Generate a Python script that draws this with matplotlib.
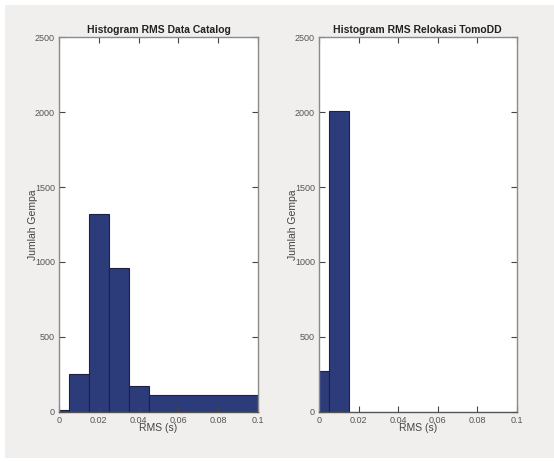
import matplotlib
matplotlib.use('Agg')
import matplotlib.pyplot as plt
from matplotlib.patches import Rectangle

# Histogram bins (left edges, widths) and counts
cat_left = [-0.005, 0.005, 0.015, 0.025, 0.035, 0.045]
cat_width = [0.01, 0.01, 0.01, 0.01, 0.01, 0.06]
cat_count = [8, 253, 1320, 958, 170, 108]

tomo_left = [-0.005, 0.005]
tomo_width = [0.01, 0.01]
tomo_count = [268, 2012]

xticks = [0, 0.02, 0.04, 0.06, 0.08, 0.1]
xticklabels = ['0', '0.02', '0.04', '0.06', '0.08', '0.1']
yticks = [0, 500, 1000, 1500, 2000, 2500]

plt.rcParams['font.family'] = ['Liberation Sans', 'DejaVu Sans']

W, H = 554, 461
fig = plt.figure(figsize=(W / 100, H / 100), dpi=100)
fig.patch.set_facecolor('white')
# grey matlab-like window background
fig.patches.append(Rectangle((5 / W, 3 / H), 1 - 5 / W, 1 - 8 / H,
                             transform=fig.transFigure, facecolor='#f0efed',
                             edgecolor='none', zorder=-10))

bar_col = '#2c3b7a'
edge_col = '#1c2240'


def setup(ax, title):
    ax.set_facecolor('white')
    ax.set_xlim(0, 0.1)
    ax.set_ylim(0, 2500)
    ax.set_xticks(xticks)
    ax.set_xticklabels(xticklabels)
    ax.set_yticks(yticks)
    ax.tick_params(direction='in', length=4, width=0.8, top=True, right=True,
                   labelsize=6.5, labelcolor='#555555', color='#444444', pad=3)
    for s in ax.spines.values():
        s.set_color('#8a8a8a')
        s.set_linewidth(1.0)
    ax.spines['bottom'].set_color('#555555')
    ax.set_title(title, fontsize=7.5, fontweight='bold', color='#222222', pad=3)
    ax.set_xlabel('RMS (s)', fontsize=7.5, color='#444444', labelpad=-1)
    ax.set_ylabel('Jumlah Gempa', fontsize=7.5, color='#444444', labelpad=-2)


ax1 = fig.add_axes([59 / W, 1 - 411.5 / H, 199 / W, 374 / H])
ax1.bar(cat_left, cat_count, width=cat_width, align='edge',
        color=bar_col, edgecolor=edge_col, linewidth=0.8)
setup(ax1, 'Histogram RMS Data Catalog')

ax2 = fig.add_axes([319 / W, 1 - 411.5 / H, 197.5 / W, 374 / H])
ax2.bar(tomo_left, tomo_count, width=tomo_width, align='edge',
        color=bar_col, edgecolor=edge_col, linewidth=0.8)
setup(ax2, 'Histogram RMS Relokasi TomoDD')

fig.savefig('out.png', dpi=100, facecolor=fig.get_facecolor())
